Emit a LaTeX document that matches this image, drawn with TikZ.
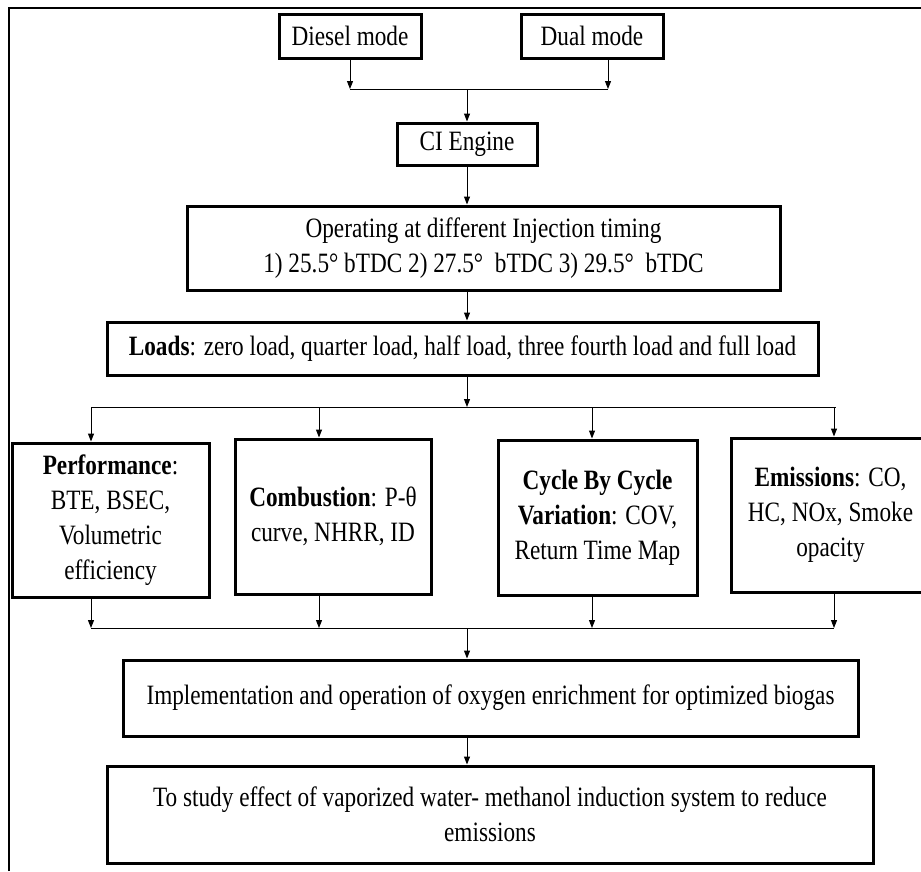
\documentclass[tikz,border=0pt]{standalone}
\usepackage{fontspec}
\setmainfont[FakeStretch=0.83]{Liberation Serif}
\usetikzlibrary{arrows.meta}
\tikzset{
  box/.style={draw, line width=3pt, inner sep=0pt, align=center,
    font=\fontsize{28}{35}\selectfont},
  conn/.style={line width=1pt},
  arr/.style={conn, -{Triangle[length=8pt,width=6pt]}},
  frame/.style={line width=1.5pt}
}
\begin{document}
\begin{tikzpicture}[x=1pt,y=-1pt]
\useasboundingbox (0,0) rectangle (921,871);
\draw[frame] (9,871) -- (9,8) -- (921,8);

\node[box, minimum width=142pt, minimum height=44pt] (diesel) at (350,36) {Diesel mode};
\node[box, minimum width=142pt, minimum height=44pt] (dual) at (592,36) {Dual mode};
\node[box, minimum width=140pt, minimum height=42pt] (ci) at (467,144) {CI Engine};
\node[box, minimum width=593pt, minimum height=84pt] (op) at (483.5,248)
  {Operating at different Injection timing\\ 1) 25.5° bTDC 2) 27.5°\ \ bTDC 3) 29.5°\ \ bTDC};
\node[box, minimum width=711pt, minimum height=53pt] (loads) at (462.5,348.5)
  {\textbf{Loads}: zero load, quarter load, half load, three fourth load and full load};
\node[box, minimum width=197pt, minimum height=154pt] (perf) at (110.5,520)
  {\textbf{Performance}:\\ BTE, BSEC,\\ Volumetric\\ efficiency};
\node[box, minimum width=196pt, minimum height=155pt] (comb) at (333,516.5)
  {\textbf{Combustion}: P-θ\\ curve, NHRR, ID};
\node[box, minimum width=199pt, minimum height=155pt] (cyc) at (597.5,517.5)
  {\textbf{Cycle By Cycle}\\ \textbf{Variation}: COV,\\ Return Time Map};
\node[box, minimum width=199pt, minimum height=154pt] (emis) at (830.5,515)
  {\textbf{Emissions}: CO,\\ HC, NOx, Smoke\\ opacity};
\node[box, minimum width=735pt, minimum height=76pt] (impl) at (490.5,698)
  {Implementation and operation of oxygen enrichment for optimized biogas};
\node[box, minimum width=766pt, minimum height=97pt] (final) at (490,814.5)
  {To study effect of vaporized water- methanol induction system to reduce\\ emissions};

\coordinate (ax) at (467,0);
\coordinate (j1) at (350,89);
\coordinate (j2) at (608,89);
\coordinate (s1) at (91,407);
\coordinate (s2) at (319,407);
\coordinate (s3) at (592,407);
\coordinate (s4) at (834,407);
\coordinate (b1) at (91,628);
\coordinate (b2) at (319,628);
\coordinate (b3) at (592,628);
\coordinate (b4) at (834,628);

\draw[conn] (j1) -- (j2);
\draw[arr] (diesel.south -| j1) -- (j1);
\draw[arr] (dual.south -| j2) -- (j2);
\draw[arr] (ax |- j1) -- (ax |- ci.north);
\draw[arr] (ax |- ci.south) -- (ax |- op.north);
\draw[arr] (ax |- op.south) -- (ax |- loads.north);
\draw[arr] (ax |- loads.south) -- (ax |- s1);
\draw[conn] (s1) -- (836,407);
\draw[arr] (s1) -- (s1 |- perf.north);
\draw[arr] (s2) -- (s2 |- comb.north);
\draw[arr] (s3) -- (s3 |- cyc.north);
\draw[arr] (s4) -- (s4 |- emis.north);
\draw[arr] (perf.south -| b1) -- (b1);
\draw[arr] (comb.south -| b2) -- (b2);
\draw[arr] (cyc.south -| b3) -- (b3);
\draw[arr] (emis.south -| b4) -- (b4);
\draw[conn] (b1) -- (b4);
\draw[arr] (ax |- b1) -- (ax |- impl.north);
\draw[arr] (ax |- impl.south) -- (ax |- final.north);
\end{tikzpicture}
\end{document}
